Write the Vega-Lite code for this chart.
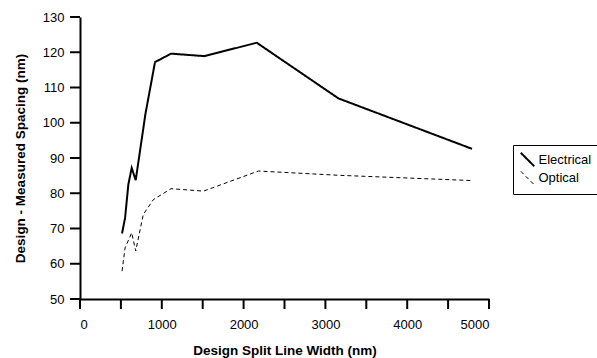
{
  "$schema": "https://vega.github.io/schema/vega-lite/v6.json",
  "width": 409,
  "height": 282,
  "autosize": "none",
  "padding": {"left": 80, "top": 17, "right": 108, "bottom": 59},
  "background": "white",
  "config": {
    "font": "Liberation Sans",
    "view": {"stroke": null},
    "axis": {"grid": false, "ticks": false, "labelOverlap": false, "domainColor": "black", "domainWidth": 2, "labelColor": "black", "labelFontSize": 13, "labelFont": "Liberation Sans", "titleFont": "Liberation Sans", "titleFontSize": 13.5, "titleFontWeight": "bold", "titleColor": "black"}
  },
  "datasets": {
    "series": [
      {"w": 514, "v": 68.6, "type": "Electrical"},
      {"w": 551, "v": 73.0, "type": "Electrical"},
      {"w": 591, "v": 82.5, "type": "Electrical"},
      {"w": 632, "v": 87.2, "type": "Electrical"},
      {"w": 681, "v": 83.7, "type": "Electrical"},
      {"w": 800, "v": 102.5, "type": "Electrical"},
      {"w": 917, "v": 117.2, "type": "Electrical"},
      {"w": 1113, "v": 119.6, "type": "Electrical"},
      {"w": 1521, "v": 118.9, "type": "Electrical"},
      {"w": 2161, "v": 122.7, "type": "Electrical"},
      {"w": 3160, "v": 106.9, "type": "Electrical"},
      {"w": 4792, "v": 92.6, "type": "Electrical"},
      {"w": 514, "v": 57.9, "type": "Optical"},
      {"w": 551, "v": 64.5, "type": "Optical"},
      {"w": 632, "v": 68.8, "type": "Optical"},
      {"w": 681, "v": 63.6, "type": "Optical"},
      {"w": 774, "v": 74.0, "type": "Optical"},
      {"w": 897, "v": 78.2, "type": "Optical"},
      {"w": 1113, "v": 81.3, "type": "Optical"},
      {"w": 1509, "v": 80.6, "type": "Optical"},
      {"w": 2181, "v": 86.3, "type": "Optical"},
      {"w": 3160, "v": 85.1, "type": "Optical"},
      {"w": 4792, "v": 83.6, "type": "Optical"}
    ],
    "xticks": [{"t": 0}, {"t": 500}, {"t": 1000}, {"t": 1500}, {"t": 2000}, {"t": 2500}, {"t": 3000}, {"t": 3500}, {"t": 4000}, {"t": 4500}, {"t": 5000}],
    "yticks": [{"t": 50}, {"t": 60}, {"t": 70}, {"t": 80}, {"t": 90}, {"t": 100}, {"t": 110}, {"t": 120}, {"t": 130}]
  },
  "layer": [
    {
      "data": {"name": "series"},
      "mark": {"type": "line", "color": "black"},
      "encoding": {
        "x": {"field": "w", "type": "quantitative", "scale": {"domain": [0, 5000], "nice": false}, "axis": {"values": [0,1000,2000,3000,4000,5000], "format": "d", "labelPadding": 19, "title": "Design Split Line Width (nm)", "titlePadding": 12}},
        "y": {"field": "v", "type": "quantitative", "scale": {"domain": [50, 130], "nice": false, "zero": false}, "axis": {"values": [50,60,70,80,90,100,110,120,130], "labelPadding": 16, "title": "Design - Measured Spacing (nm)", "titlePadding": 15}},
        "strokeDash": {"field": "type", "type": "nominal", "scale": {"domain": ["Electrical", "Optical"], "range": [[1, 0], [4, 3]]}, "legend": {"title": null, "orient": "none", "legendX": 433, "legendY": 128, "strokeColor": "black", "padding": 6.5, "symbolType": "M-1,-1L1,1", "symbolSize": 180, "symbolStrokeColor": "black", "symbolStrokeWidth": 1.5, "labelFontSize": 13, "labelColor": "black", "labelOffset": 3, "rowPadding": -5}},
        "strokeWidth": {"field": "type", "type": "nominal", "scale": {"domain": ["Electrical", "Optical"], "range": [2, 1]}, "legend": null}
      }
    },
    {
      "data": {"name": "xticks"},
      "mark": {"type": "tick", "orient": "vertical", "color": "black", "opacity": 1, "size": 10, "thickness": 2, "clip": false},
      "encoding": {
        "x": {"field": "t", "type": "quantitative", "axis": {"values": [0,1000,2000,3000,4000,5000], "format": "d", "labelPadding": 19, "title": "Design Split Line Width (nm)", "titlePadding": 12}},
        "y": {"datum": 48.58, "type": "quantitative", "axis": {"values": [50,60,70,80,90,100,110,120,130], "labelPadding": 16, "title": "Design - Measured Spacing (nm)", "titlePadding": 15}}
      }
    },
    {
      "data": {"name": "yticks"},
      "mark": {"type": "tick", "orient": "horizontal", "color": "black", "opacity": 1, "size": 10, "thickness": 2, "clip": false},
      "encoding": {
        "y": {"field": "t", "type": "quantitative", "axis": {"values": [50,60,70,80,90,100,110,120,130], "labelPadding": 16, "title": "Design - Measured Spacing (nm)", "titlePadding": 15}},
        "x": {"datum": -61, "type": "quantitative", "axis": {"values": [0,1000,2000,3000,4000,5000], "format": "d", "labelPadding": 19, "title": "Design Split Line Width (nm)", "titlePadding": 12}}
      }
    }
  ]
}
